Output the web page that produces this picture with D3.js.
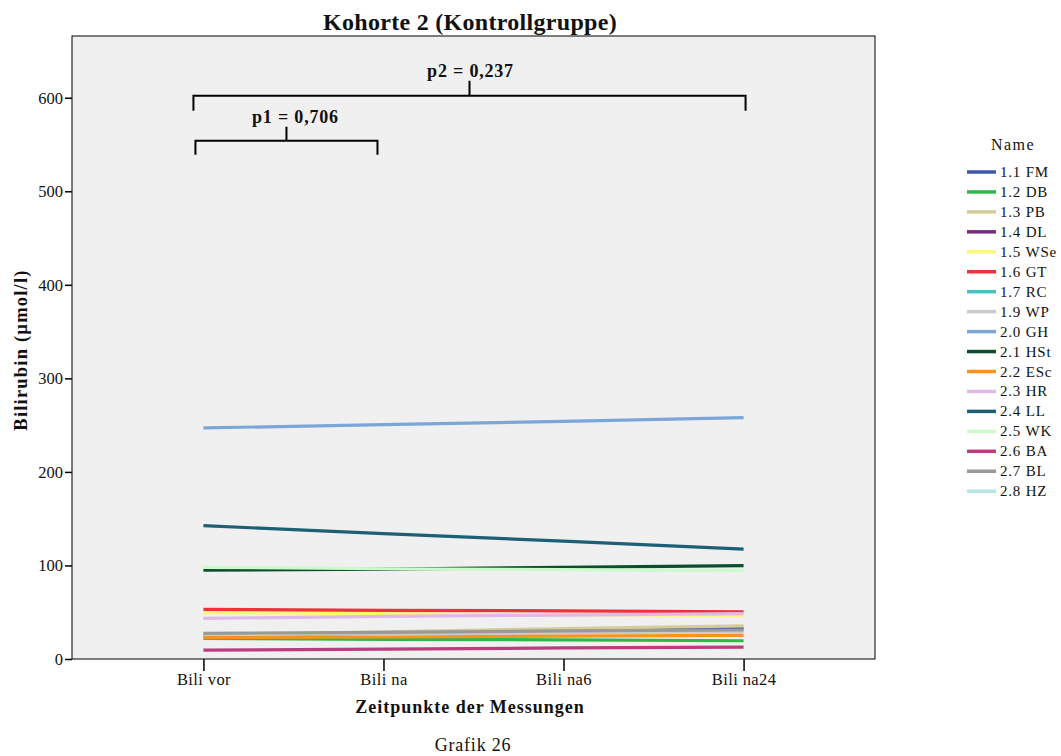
<!DOCTYPE html>
<html>
<head>
<meta charset="utf-8">
<script src="https://cdn.jsdelivr.net/npm/d3@7"></script>
<style>
  html, body { margin: 0; padding: 0; background: #fff; }
  svg { display: block; font-family: "Liberation Serif", "DejaVu Serif", serif; }
</style>
</head>
<body>
<svg id="chart" width="1061" height="756"></svg>
<script>
// Measurement time points
const timepoints = ["Bili vor", "Bili na", "Bili na6", "Bili na24"];

// Patient names (legend order)
const names = ["1.1 FM", "1.2 DB", "1.3 PB", "1.4 DL", "1.5 WSe", "1.6 GT", "1.7 RC",
               "1.9 WP", "2.0 GH", "2.1 HSt", "2.2 ESc", "2.3 HR", "2.4 LL", "2.5 WK",
               "2.6 BA", "2.7 BL", "2.8 HZ"];

const colors = ["#3d57ab", "#2db84a", "#d4cd96", "#7a2a7e", "#fbf874", "#ee3239", "#47c1c4",
                "#cbcbcb", "#7ba7d8", "#0b4f2f", "#f7941e", "#dfb9ea", "#1d5f74", "#cbfacb",
                "#ba3e7d", "#999999", "#b5e5e5"];

// Bilirubin (µmol/l) per patient at the four time points; null = missing
const v_FM  = [25.5, 27.5, 30.5, 33];
const v_DB  = [22, 21, 20.5, 19.5];
const v_PB  = [25, 29, 32.5, 35.5];
const v_DL  = [null, null, null, null];
const v_WSe = [49.5, 48.5, 47.5, 46.5];
const v_GT  = [53, 52, 51.5, 50.5];
const v_RC  = [null, null, null, null];
const v_WP  = [26, 27, 28, 29];
const v_GH  = [247, 250.5, 254, 258];
const v_HSt = [95, 96, 98, 99.8];
const v_ESc = [22.8, 23.5, 24.5, 25.3];
const v_HR  = [43.5, 45.5, 47, 48.5];
const v_LL  = [142.5, 134, 126, 117.5];
const v_WK  = [98, 96.5, 95.5, 94.5];
const v_BA  = [9.5, 10.5, 11.8, 12.8];
const v_BL  = [27.5, 28.5, 30, 31];
const v_HZ  = [null, null, null, null];

const seriesValues = [v_FM, v_DB, v_PB, v_DL, v_WSe, v_GT, v_RC, v_WP, v_GH, v_HSt,
                      v_ESc, v_HR, v_LL, v_WK, v_BA, v_BL, v_HZ];

const yTicks = [0, 100, 200, 300, 400, 500, 600];

// Pairwise test results shown as brackets
const pLabels = ["p1 = 0,706", "p2 = 0,237"];

const series = names.map((n, i) => ({ name: n, color: colors[i], values: seriesValues[i] }));

const svg = d3.select("#chart");
const plot = { left: 72, top: 36, right: 875, bottom: 659 };

const x = d3.scalePoint().domain(timepoints).range([plot.left, plot.right]).padding(0.73);
const y = d3.scaleLinear().domain([0, 666]).range([plot.bottom, plot.top]);

// Plot background and frame
svg.append("rect")
  .attr("x", plot.left).attr("y", plot.top)
  .attr("width", plot.right - plot.left).attr("height", plot.bottom - plot.top)
  .attr("fill", "#f0f0f0").attr("stroke", "#000").attr("stroke-width", 1);

// Lines
const line = d3.line()
  .defined(d => d.v != null)
  .x(d => x(d.t))
  .y(d => y(d.v));

svg.append("g").selectAll("path")
  .data(series)
  .join("path")
  .attr("d", s => line(s.values.map((v, i) => ({ t: timepoints[i], v }))))
  .attr("fill", "none")
  .attr("stroke", s => s.color)
  .attr("stroke-width", 3.2);

// Axes
const yAxis = svg.append("g")
  .attr("transform", `translate(${plot.left},0)`)
  .call(d3.axisLeft(y).tickValues(yTicks).tickSize(7).tickPadding(2).tickFormat(d3.format("d")));
yAxis.select(".domain").remove();
yAxis.selectAll("line").attr("stroke", "#000").attr("stroke-width", 1.5);
yAxis.selectAll("text").attr("font-size", 16.5).attr("font-family", "Liberation Serif").attr("fill", "#111");

const xAxis = svg.append("g")
  .attr("transform", `translate(0,${plot.bottom})`)
  .call(d3.axisBottom(x).tickSize(12).tickPadding(2));
xAxis.select(".domain").remove();
xAxis.selectAll("line").attr("stroke", "#000").attr("stroke-width", 1.5);
xAxis.selectAll("text").attr("font-size", 16.5).attr("letter-spacing", 0.4)
  .attr("font-family", "Liberation Serif").attr("fill", "#111");

// Significance brackets
function bracket(x0, x1, yv, label, tickLen, legLen, textShift) {
  const yy = y(yv);
  const mid = (x0 + x1) / 2;
  const g = svg.append("g");
  g.append("path")
    .attr("d", `M${x0},${yy + legLen}V${yy}H${x1}V${yy + legLen}M${mid},${yy}V${yy - tickLen}`)
    .attr("fill", "none").attr("stroke", "#000").attr("stroke-width", 2);
  g.append("text")
    .attr("x", mid + textShift).attr("y", yy - tickLen - 4)
    .attr("text-anchor", "middle")
    .attr("font-size", 18).attr("font-weight", "bold").attr("letter-spacing", 0.8)
    .attr("fill", "#111")
    .text(label);
}
bracket(x(timepoints[0]) - 8, x(timepoints[1]) - 6, 554, pLabels[0], 14, 14, 9);
bracket(x(timepoints[0]) - 10, x(timepoints[3]) + 2, 602, pLabels[1], 15, 15, 1);

// Title and axis titles
svg.append("text")
  .attr("x", 470).attr("y", 30).attr("text-anchor", "middle")
  .attr("font-size", 24).attr("font-weight", "bold").attr("letter-spacing", 0.3).attr("fill", "#111")
  .text("Kohorte 2 (Kontrollgruppe)");

svg.append("text")
  .attr("transform", "translate(27,350) rotate(-90)")
  .attr("text-anchor", "middle")
  .attr("font-size", 18.5).attr("font-weight", "bold").attr("letter-spacing", 1.2).attr("fill", "#111")
  .text("Bilirubin (µmol/l)");

svg.append("text")
  .attr("x", 470).attr("y", 713).attr("text-anchor", "middle")
  .attr("font-size", 18).attr("font-weight", "bold").attr("letter-spacing", 1).attr("fill", "#111")
  .text("Zeitpunkte der Messungen");

svg.append("text")
  .attr("x", 473).attr("y", 751).attr("text-anchor", "middle")
  .attr("font-size", 18).attr("letter-spacing", 0.8).attr("fill", "#111")
  .text("Grafik 26");

// Legend
const legend = svg.append("g").attr("transform", "translate(967,172)");
legend.append("text")
  .attr("x", 46).attr("y", -22).attr("text-anchor", "middle")
  .attr("font-size", 16).attr("letter-spacing", 1.5).attr("fill", "#111")
  .text("Name");
const item = legend.selectAll("g.item")
  .data(series)
  .join("g")
  .attr("class", "item")
  .attr("transform", (d, i) => `translate(0,${i * 19.95})`);
item.append("line")
  .attr("x1", 0).attr("x2", 29).attr("y1", 0).attr("y2", 0)
  .attr("stroke", d => d.color).attr("stroke-width", 3.5);
item.append("text")
  .attr("x", 33).attr("y", 5)
  .attr("font-size", 15).attr("letter-spacing", 0.8).attr("fill", "#111")
  .text(d => d.name);
</script>
</body>
</html>
